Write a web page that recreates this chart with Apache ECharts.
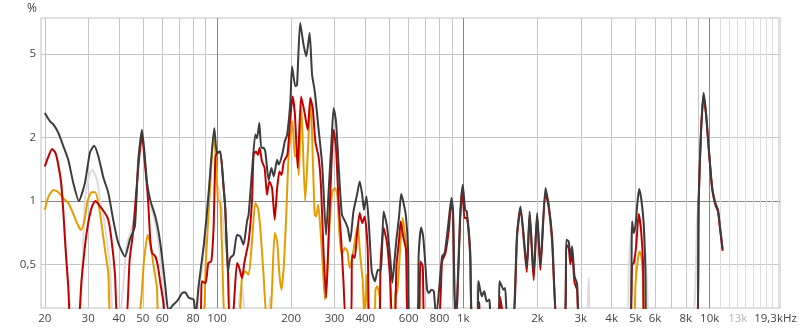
<!DOCTYPE html>
<html><head><meta charset="utf-8">
<script src="https://cdn.jsdelivr.net/npm/echarts@6/dist/echarts.min.js"></script>
<style>html,body{margin:0;padding:0;background:#fff}#c{width:800px;height:333px}</style>
</head><body><div id="c"></div>
<script>
// ---- axis ticks / labels ----
const xTickHz = [20,30,40,50,60,70,80,90,100,200,300,400,500,600,700,800,900,1000,2000,3000,4000,5000,6000,7000,8000,9000,10000,11000,12000,13000,14000,15000,16000,17000,18000,19000];
const xLabelHz = [20,30,40,50,60,80,100,200,300,400,600,800,1000,2000,3000,4000,5000,6000,8000,10000,13000,19299];
const yTickPct = [0.5,1,2,5];

// ---- series (frequency in Hz, distortion in %) ----
const darkHz = [20,21,21.7,22.7,23.8,24.9,26.1,27.5,29.1,30.5,31.7,33,34.6,36.2,37.9,39.7,42.3,44.3,46.4,47.9,49.6,52,53.6,56.2,58,59.8,61.7,63.5,65.5,69.6,72.1,74.2,76.8,80.4,81.8,84.2,88.6,92.5,97.5,100,103,106.4,108,110.8,113.2,116.8,120.6,124.3,128.2,132.4,134.4,138.7,143.1,145.4,148.5,151.3,154.5,157.1,162.1,166.3,170,175.5,178.1,183.9,188.5,192.7,198.6,201.7,208,211.3,217.6,224.6,230.4,237.7,243.2,249.4,259.1,267.3,277.2,284.4,291.6,297.6,304.2,311.5,321.4,331.2,339.6,347,358.1,370.1,379.7,388.6,395,404.5,414.4,424.9,437.9,449.9,463,474.5,490,505.6,515,526,535,548.5,559.5,572,585,597,604,650,659,674,687,702,713,724,743,759,775,820,840,867,895,908,928,945,970,995,1017,1033,1066,1085,1140,1152,1189,1215,1245,1276,1295,1390,1402,1434,1455,1478,1510,1590,1653,1706,1810,1859,1930,1993,2055,2155,2222,2293,2400,2580,2620,2677,2721,2765,2828,2894,2990,4733,4843,4917,4995,5075,5171,5282,5396,5480,5565,8889,9022,9226,9451,9669,9907,10227,10547,10810,11050,11290];
const darkPct = [2.62,2.39,2.31,2.11,1.82,1.57,1.22,1.0,1.22,1.70,1.83,1.63,1.29,1.095,0.815,0.634,0.545,0.655,0.757,1.55,2.18,1.22,1.01,0.845,0.707,0.545,0.393,0.3,0.315,0.34,0.365,0.368,0.347,0.34,0.28,0.393,0.632,1.09,2.22,1.69,1.72,1.157,0.929,0.463,0.536,0.556,0.691,0.679,0.62,0.80,0.861,1.38,2.07,1.99,2.35,1.79,1.79,1.72,1.26,1.435,1.31,1.57,1.49,1.66,1.92,2.07,2.98,4.36,3.51,3.57,7.02,5.54,4.87,6.29,3.99,3.32,2.14,1.49,0.691,1.153,1.92,2.77,2.39,1.49,0.861,0.80,0.744,0.643,0.892,1.07,1.24,1.07,0.909,1.05,0.744,0.463,0.415,0.471,0.465,0.892,0.757,0.526,0.409,0.526,0.655,0.845,1.08,0.978,0.845,0.587,0.28,0.28,0.56,0.749,0.679,0.489,0.379,0.365,0.379,0.372,0.28,0.545,0.566,0.757,1.033,0.909,0.28,0.36,0.845,1.195,0.909,0.892,0.587,0.28,0.28,0.415,0.352,0.372,0.333,0.34,0.28,0.28,0.415,0.393,0.379,0.386,0.28,0.28,0.704,0.943,0.489,0.892,0.455,0.877,0.498,1.153,0.96,0.679,0.28,0.28,0.655,0.643,0.545,0.608,0.438,0.407,0.28,0.28,0.80,0.704,0.757,0.943,1.14,1.014,0.786,0.489,0.28,0.28,1.014,2.18,3.26,2.62,1.82,1.17,0.978,0.909,0.73,0.591];

const redHz = [20,20.7,21.4,22.1,22.6,23.3,23.8,24.3,24.9,25.5,27.2,28.2,29.1,30,31.1,32.1,33.5,35.1,36.2,37.3,38.5,39.6,42.6,44.2,45.6,47,48.3,49.6,51.1,52.5,53.6,54.5,56.2,57.6,58.9,60.7,62,85,86.8,89.9,92.2,94.8,96.9,98.5,100,103,106.4,108,110.8,112.5,115.5,117.5,120.6,123.2,126.3,129.4,134.4,138.7,140.8,143.9,146.7,148.9,152.3,156.1,159.6,163.1,167.3,171.5,175.5,179.3,182.8,186.9,193.1,197.5,202.7,207.2,212.6,219.4,226.3,233.6,239.3,244.7,250.8,258.9,264.6,270.3,277.4,284.4,291.6,297.6,304.2,311.5,319.5,326.1,334,350,353.5,362,370.1,379.7,388.6,397.7,408.9,418,455,461,474.5,490,505.6,514,528,535,548.5,557,570,585,598,655,670,684,700,790,820,846,873,895,908,926,945,970,992,1011,1033,1066,1085,1145,1160,1180,1390,1410,1440,1460,1590,1653,1706,1810,1859,1930,1993,2055,2155,2222,2293,2400,2580,2620,2677,2721,2765,2828,2894,2980,4742,4843,4917,5030,5150,5265,5365,5430,8900,9022,9226,9451,9669,9907,10227,10547,10810,11050,11290];
const redPct = [1.46,1.63,1.77,1.69,1.52,1.22,0.877,0.587,0.393,0.26,0.26,0.422,0.608,0.786,0.943,1.0,0.943,0.877,0.815,0.655,0.455,0.27,0.27,0.526,0.704,1.1,1.6,2.05,1.46,1.01,0.655,0.566,0.545,0.489,0.407,0.327,0.27,0.27,0.415,0.407,0.507,0.516,0.757,1.6,1.69,1.72,1.157,0.929,0.463,0.27,0.27,0.34,0.507,0.48,0.43,0.516,0.643,1.0,1.66,1.72,1.66,1.79,1.54,1.435,1.07,1.24,1.153,0.815,1.153,1.38,1.33,1.54,1.66,2.31,3.14,2.57,1.435,3.14,2.67,2.18,3.09,2.77,1.92,1.6,1.153,0.598,0.346,0.717,1.49,2.18,1.79,1.0,0.643,0.415,0.27,0.27,0.556,0.536,0.691,0.877,0.786,0.845,0.598,0.27,0.27,0.489,0.744,0.632,0.407,0.27,0.27,0.489,0.655,0.80,0.679,0.587,0.27,0.27,0.516,0.489,0.27,0.27,0.516,0.566,0.73,1.0,0.87,0.27,0.33,0.8,1.15,0.83,0.83,0.55,0.27,0.27,0.33,0.27,0.27,0.35,0.3,0.27,0.27,0.68,0.92,0.46,0.86,0.42,0.85,0.47,1.1,0.93,0.64,0.27,0.27,0.62,0.6,0.5,0.57,0.41,0.38,0.27,0.27,0.498,0.507,0.608,0.867,0.73,0.507,0.27,0.27,0.98,2.12,3.18,2.56,1.78,1.15,0.96,0.89,0.715,0.58];

const orangeHz = [20,20.7,21.7,22.7,23.8,24.9,25.7,26.5,27.4,28.1,29,29.9,31,32,33,34.1,35.1,36.2,37.5,47.3,50.6,52.3,54.2,55.3,57,58.6,86.5,89.9,93.9,96.9,98.4,100.9,103.1,104.8,108.5,122,126.3,130.3,134.4,138.7,143.1,146.7,149.9,154.5,159.5,165.5,171.5,175.5,179.3,182.8,186.9,191.1,195.5,202.7,207.1,211.3,215,219.5,228,234,240,246,249.4,252.8,257.6,263.4,269.1,274.3,280.5,286.8,294,301.5,308,313,320.6,330.7,338.6,346,355.9,364.4,372.9,381,390.6,396.5,405.6,413,435,440,447,457,466,522,530,539,548.5,567,581,594,601,650,662,675,4925,4995,5110,5200,5282,5365,5400];
const orangePct = [0.909,1.05,1.13,1.10,1.03,0.978,0.909,0.83,0.757,0.73,0.815,1.01,1.1,1.1,0.98,0.757,0.587,0.455,0.27,0.27,0.526,0.691,0.587,0.489,0.393,0.27,0.27,0.489,1.22,1.99,1.75,1.014,0.978,0.608,0.27,0.27,0.43,0.463,0.446,0.643,0.978,0.926,0.744,0.446,0.27,0.3,0.704,0.643,0.446,0.379,0.498,0.861,1.66,2.39,1.63,1.66,1.33,3.0,1.0,1.75,3.06,1.33,0.861,0.845,0.96,0.717,0.48,0.34,0.48,0.8,1.11,1.153,1.07,0.744,0.556,0.598,0.576,0.48,0.556,0.667,0.772,0.556,0.415,0.27,0.446,0.27,0.27,0.379,0.393,0.352,0.27,0.27,0.379,0.365,0.489,0.83,0.679,0.526,0.27,0.27,0.37,0.27,0.27,0.393,0.526,0.576,0.545,0.422,0.27];

const greyHz = [20,20.7,21.4,22.1,22.6,23.3,23.8,24.3,24.9,25.3,25.8,27.6,28.4,29.1,30,31.1,32.6,33.5,34.6,35.7,36.8,38,40,42,43,45.3,46.8,47.9,49.6,52,53.6,56.2,58,59.8,61.5,62.5,81,84,86.5,88.6,92.5,97.5,100,103,106.4,110,113,114,120,124,126,128.5,131,160,164,168,1120,1140,1152,1189,1215,1245,1276,1295,3127,3227,3300,4600,4700,4843,4917,4995,5075,5171,5282,5396,5500,5600,5650,8349,8889,9022,9226,9451,9669,9907,10227,10547,10810,11050,11290];
const greyPct = [1.46,1.63,1.77,1.69,1.52,1.22,0.877,0.587,0.393,0.33,0.26,0.26,0.5,1.0,1.26,1.41,1.26,1.01,0.845,0.655,0.489,0.27,0.27,0.45,0.62,0.76,0.95,1.55,2.18,1.22,0.98,0.78,0.62,0.45,0.3,0.25,0.27,0.35,0.45,0.632,1.09,2.22,1.22,1.09,0.757,0.526,0.3,0.26,0.26,0.36,0.4,0.33,0.26,0.26,0.35,0.26,0.26,0.42,0.415,0.352,0.372,0.333,0.34,0.26,0.26,0.43,0.26,0.26,0.5,0.80,0.704,0.757,0.943,1.14,1.014,0.786,0.55,0.35,0.26,0.26,0.815,1.014,2.18,3.26,2.62,1.82,1.17,0.978,0.909,0.73,0.591];

function pairs(h, p) { return h.map((f, i) => [f, p[i]]); }

const FONT = 'Open Sans';
const LABEL = '#444444';
const GRID = '#c6c6c6';
const GRID_DARK = '#868686';
const GRID_LIGHT = '#dedede';

const xLineColors = xTickHz.map(v => (v === 100 || v === 1000 || v === 10000) ? GRID_DARK : (v > 10000 ? GRID_LIGHT : GRID));
const yLineColors = yTickPct.map(v => v === 1 ? GRID_DARK : GRID);

function xFmt(v) {
  v = Math.round(v);
  if (v >= 19000) return '{e|19,3kHz}';
  if (v === 13000) return '{l|13k}';
  return v >= 1000 ? (v / 1000) + 'k' : String(v);
}

function line(name, hz, pct, color) {
  return {
    name, type: 'line', data: pairs(hz, pct), showSymbol: false, symbol: 'none',
    smooth: 0.2, clip: true, animation: false,
    lineStyle: { color, width: 2 }, emphasis: { disabled: true }
  };
}

const chart = echarts.init(document.getElementById('c'), null, { renderer: 'canvas' });
chart.setOption({
  animation: false,
  backgroundColor: '#ffffff',
  grid: { left: 41, right: 20, top: 18, bottom: 25, show: true, borderColor: '#c0c0c0', borderWidth: 1, backgroundColor: 'transparent', containLabel: false },
  xAxis: {
    type: 'log', logBase: 10, min: 19.3, max: 19300,
    axisLine: { show: false },
    axisTick: { show: false, customValues: xTickHz },
    splitLine: { show: true, lineStyle: { color: xLineColors, width: 1 } },
    minorSplitLine: { show: false },
    axisLabel: {
      customValues: xLabelHz, formatter: xFmt, margin: 5,
      color: LABEL, fontFamily: FONT, fontSize: 11.5,
      rich: {
        l: { color: '#b4b4b4', fontFamily: FONT, fontSize: 11.5 },
        e: { color: LABEL, fontFamily: FONT, fontSize: 11.5, padding: [0, 9, 0, 0] }
      }
    }
  },
  yAxis: {
    type: 'log', logBase: 10, min: 0.31, max: 7.42,
    name: '%', nameLocation: 'end', nameGap: 3,
    nameTextStyle: { color: LABEL, fontFamily: FONT, fontSize: 12, align: 'right', padding: [0, 4, 0, 0] },
    axisLine: { show: false },
    axisTick: { show: false, customValues: yTickPct },
    splitLine: { show: true, lineStyle: { color: yLineColors, width: 1 } },
    axisLabel: {
      customValues: yTickPct, margin: 5,
      formatter: v => String(+(+v).toPrecision(3)).replace('.', ','),
      color: LABEL, fontFamily: FONT, fontSize: 11.5
    }
  },
  series: [
    line('noise', greyHz, greyPct, '#dcdcdc'),
    line('k3', orangeHz, orangePct, '#e59c00'),
    line('k2', redHz, redPct, '#c00000'),
    line('THD', darkHz, darkPct, '#3c3c3c')
  ]
});
</script></body></html>
